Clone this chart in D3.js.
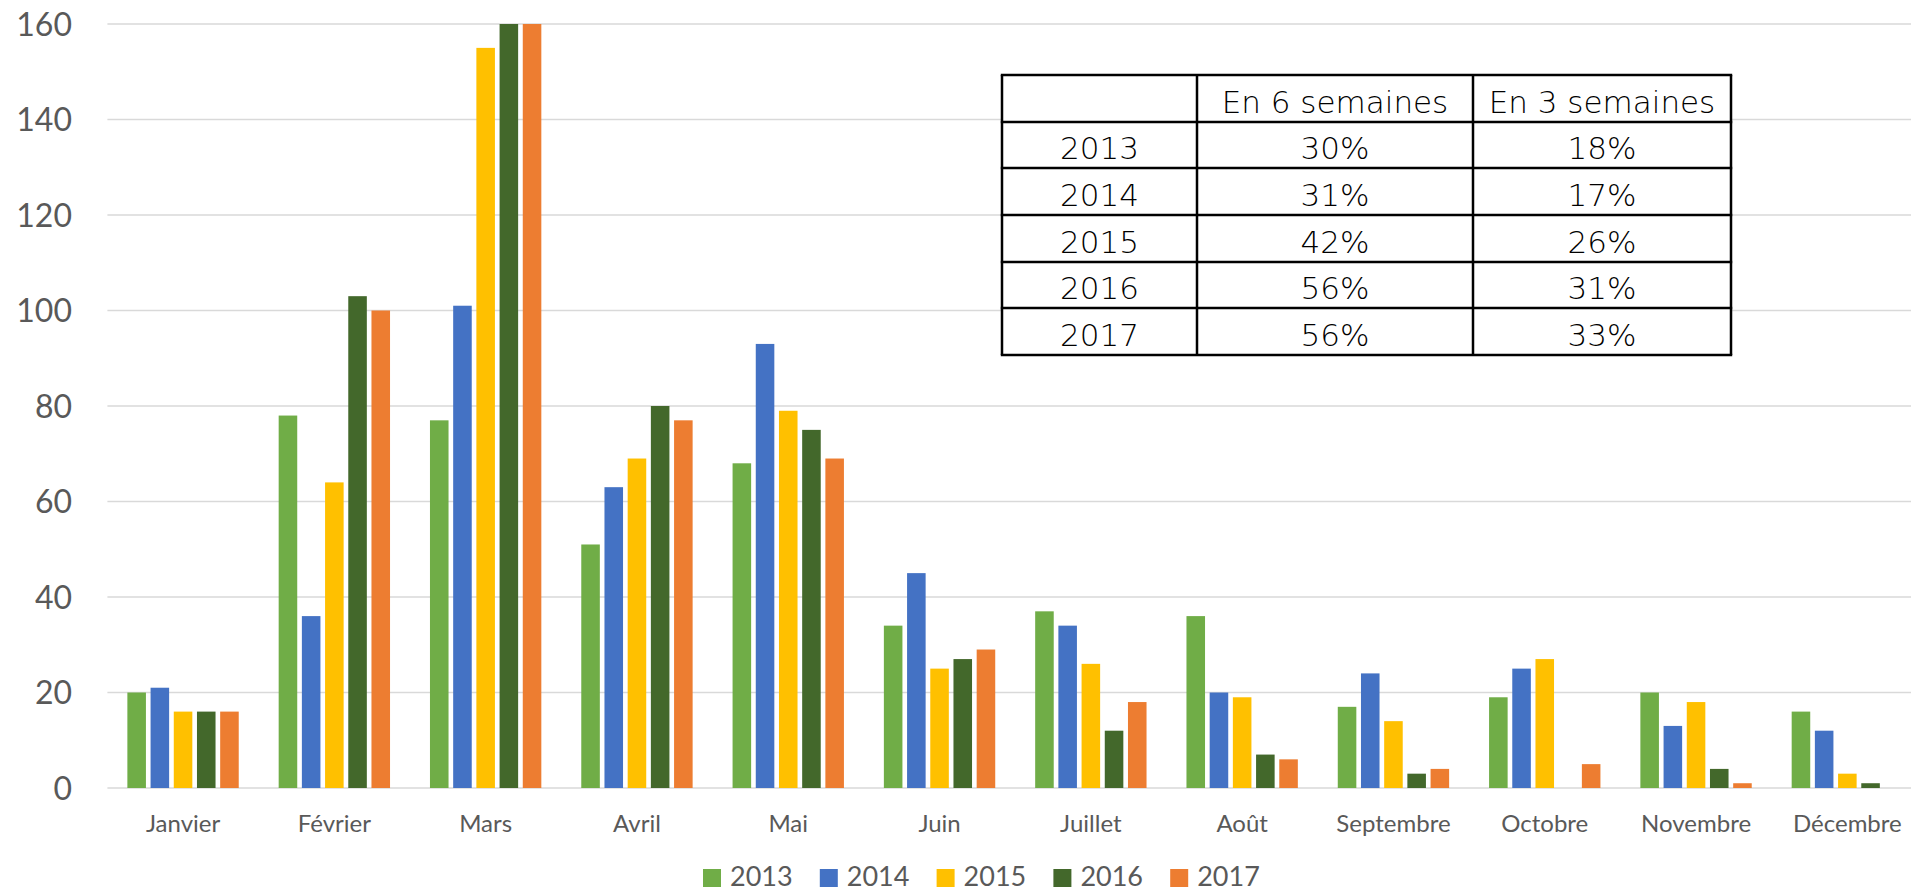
<!DOCTYPE html>
<html><head><meta charset="utf-8">
<script src="https://cdn.jsdelivr.net/npm/d3@7"></script>
<style>html,body{margin:0;padding:0;background:#fff;overflow:hidden}</style>
</head><body>
<svg id="c" width="1911" height="892"></svg>
<script>
const months = ["Janvier","Février","Mars","Avril","Mai","Juin","Juillet","Août","Septembre","Octobre","Novembre","Décembre"];
const years = ["2013","2014","2015","2016","2017"];
const colors = ["#70AD47","#4472C4","#FFC000","#43682B","#ED7D31"];
const v2013 = [20,78,77,51,68,34,37,36,17,19,20,16];
const v2014 = [21,36,101,63,93,45,34,20,24,25,13,12];
const v2015 = [16,64,155,69,79,25,26,19,14,27,18,3];
const v2016 = [16,103,160,80,75,27,12,7,3,0,4,1];
const v2017 = [16,100,160,77,69,29,18,6,4,5,1,0];
const series = [v2013,v2014,v2015,v2016,v2017];
const yTicks = [0,20,40,60,80,100,120,140,160];
const tableHeader = ["", "En 6 semaines", "En 3 semaines"];
const tableYears = ["2013","2014","2015","2016","2017"];
const table6 = ["30%","31%","42%","56%","56%"];
const table3 = ["18%","17%","26%","31%","33%"];

const svg = d3.select("#c");
const left = 107.4, step = 151.3;
const x0 = d3.scaleBand().domain(months).range([left, left + step*12]).padding(0);
const groupW = 116;
const x1 = d3.scaleBand().domain(years).range([0, groupW]).paddingInner(0.2).paddingOuter(0.1);
const y = d3.scaleLinear().domain([0,160]).range([788, 24]);
const font = "Lato, 'Open Sans', sans-serif";

// gridlines
svg.append("g").selectAll("line").data(yTicks).join("line")
  .attr("x1", left).attr("x2", 1911)
  .attr("y1", d=>y(d)).attr("y2", d=>y(d))
  .attr("stroke", "#d9d9d9").attr("stroke-width", 1.6);

// y labels
svg.append("g").selectAll("text").data(yTicks).join("text")
  .attr("x", 72).attr("y", d=>y(d)).attr("dy","0.36em")
  .attr("text-anchor","end").attr("font-family",font).attr("font-size",32)
  .attr("fill","#595959").text(d=>d);

// bars
svg.append("clipPath").attr("id","pc").append("rect")
  .attr("x",0).attr("y",y(160)).attr("width",1911).attr("height",y(0)-y(160));
const gb = svg.append("g").attr("clip-path","url(#pc)");
years.forEach((yr,i)=>{
  gb.append("g").selectAll("rect").data(series[i]).join("rect")
    .attr("x",(d,j)=>x0(months[j]) + (step-groupW)/2 + x1(yr))
    .attr("width", x1.bandwidth())
    .attr("y", d=>y(d)).attr("height", d=>y(0)-y(d))
    .attr("fill", colors[i]);
});

// x labels
svg.append("g").selectAll("text").data(months).join("text")
  .attr("x", d=>x0(d)+step/2).attr("y", 832)
  .attr("text-anchor","middle").attr("font-family",font).attr("font-size",24)
  .attr("fill","#595959").text(d=>d);

// legend
const lg = svg.append("g");
years.forEach((yr,i)=>{
  const lx = 703 + i*116.8;
  lg.append("rect").attr("x",lx).attr("y",869).attr("width",18).attr("height",18).attr("fill",colors[i]);
  lg.append("text").attr("x",lx+27).attr("y",886).attr("font-family",font).attr("font-size",27)
    .attr("fill","#595959").text(yr);
});

// table
const colX = [1002,1197,1473,1731];
const rowY = [75,122,168,215,262,308,355];
const tg = svg.append("g");
tg.append("rect").attr("x",colX[0]).attr("y",rowY[0]).attr("width",colX[3]-colX[0]).attr("height",rowY[6]-rowY[0]).attr("fill","#fff");
colX.forEach(cx=>tg.append("line").attr("x1",cx).attr("x2",cx).attr("y1",rowY[0]).attr("y2",rowY[6]).attr("stroke","#000").attr("stroke-width",2.5));
rowY.forEach(ry=>tg.append("line").attr("x1",colX[0]-1.2).attr("x2",colX[3]+1.2).attr("y1",ry).attr("y2",ry).attr("stroke","#000").attr("stroke-width",2.5));
const rows = [tableHeader].concat(tableYears.map((yr,i)=>[yr, table6[i], table3[i]]));
rows.forEach((r,ri)=>{
  r.forEach((t,ci)=>{
    tg.append("text").attr("x",(colX[ci]+colX[ci+1])/2).attr("y",rowY[ri+1]-9)
      .attr("text-anchor","middle").attr("font-family","'DejaVu Sans', 'Open Sans', sans-serif")
      .attr("font-weight",200).attr("font-size",31).attr("fill","#000").text(t);
  });
});
</script>
</body></html>
